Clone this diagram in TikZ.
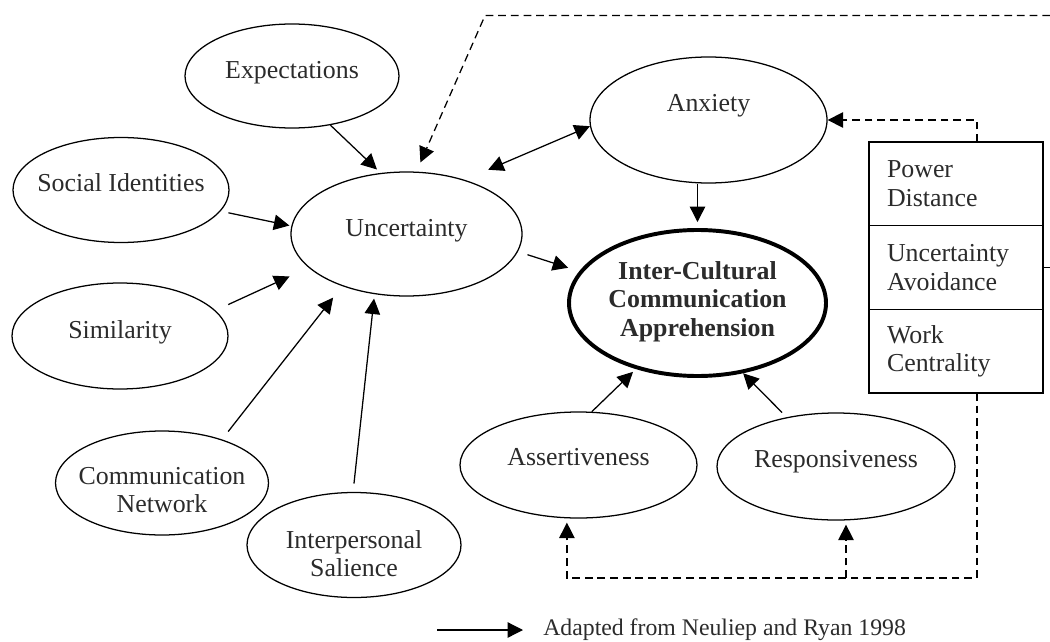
\documentclass[tikz,border=0pt]{standalone}
\usepackage{fontspec}
\setmainfont{Liberation Serif}
\usetikzlibrary{shapes.geometric,arrows.meta,positioning}
\definecolor{ink}{HTML}{2B2B2B}
\newcommand{\up}[2]{\raisebox{#1}[\height][\depth]{\begin{tabular}{@{}c@{}}#2\end{tabular}}}

\begin{document}
\begin{tikzpicture}[
	>={Triangle[length=11pt,width=11pt]},
	every node/.style={font=\fontsize{18.4}{20.3}\selectfont, text=ink},
	bubble/.style={ellipse, draw, line width=0.9pt, inner sep=0pt, inner xsep=-0.25cm},
	core/.style={bubble, line width=2.8pt, font=\fontsize{18.4}{20.3}\selectfont\bfseries},
	factor/.style={rectangle, draw, line width=0.9pt, outer sep=0pt, minimum width=4.35cm,
		minimum height=2.0925cm, text width=3.45cm, inner xsep=0.45cm, inner ysep=0pt, align=left},
	link/.style={->, line width=0.9pt},
	feedback/.style={->, line width=0.9pt, dash pattern=on 5.5pt off 3.5pt}
]
	\useasboundingbox (0,0) rectangle (26.25,-16.025);
	% antecedents of uncertainty
	\node[bubble, minimum width=5.35cm, minimum height=2.6cm] (expect) at (7.3,-1.9) {\up{0.075cm}{Expectations}};
	\node[bubble, minimum width=5.4cm, minimum height=2.625cm] (social) at (3.025,-4.75) {\up{0.1cm}{Social Identities}};
	\node[bubble, minimum width=5.4cm, minimum height=2.65cm] (simil) at (3.0,-8.4) {\up{0.075cm}{Similarity}};
	\node[bubble, minimum width=5.325cm, minimum height=2.6cm] (commnet) at (4.05,-12.075) {\up{-0.25cm}{Communication\\Network}};
	\node[bubble, minimum width=5.35cm, minimum height=2.625cm] (salience) at (8.85,-13.625) {\up{-0.3cm}{Interpersonal\\Salience}};
	% middle
	\node[bubble, minimum width=5.775cm, minimum height=3.1cm] (uncert) at (10.1625,-5.85) {\up{0.075cm}{Uncertainty}};
	\node[bubble, minimum width=5.925cm, minimum height=3.15cm] (anxiety) at (17.7125,-3.0) {\up{0.345cm}{Anxiety}};
	\node[core, minimum width=6.425cm, minimum height=3.65cm] (icca) at (17.4375,-7.575) {\up{0.025cm}{Inter-Cultural\\Communication\\Apprehension}};
	\node[bubble, minimum width=5.925cm, minimum height=2.65cm] (assert) at (14.4625,-11.625) {\up{0.125cm}{Assertiveness}};
	\node[bubble, minimum width=5.95cm, minimum height=2.675cm] (respons) at (20.9,-11.6625) {\up{0.125cm}{Responsiveness}};
	% cultural dimensions
	\node[factor] (pd) at (23.9,-4.596) {Power\\Distance};
	\node[factor, below=0pt of pd] (ua) {Uncertainty\\Avoidance};
	\node[factor, below=0pt of ua] (wc) {Work\\Centrality};
	% solid arrows
	\draw[link, shorten >=0.125cm] (expect.-52) -- (uncert.113);
	\draw[link, shorten <=0.2cm, shorten >=0.05cm] (social.-12) -- (uncert.176);
	\draw[link, shorten <=0.35cm, shorten >=0.525cm] (simil.15) -- (uncert.-161);
	\draw[link, shorten <=0.25cm, shorten >=0.365cm] (commnet.36) -- (uncert.-141);
	\draw[link, shorten <=0.21cm, shorten >=0.11cm] (salience.91) -- (uncert.-118);
	\draw[link, <->, shorten <=0.64cm] (uncert.43) -- (anxiety.183);
	\draw[link, shorten <=0.25cm, shorten >=0.29cm] (uncert.-9) -- (icca.165);
	\draw[link, shorten >=0.15cm] (icca.north |- anxiety.south) -- (icca.north);
	\draw[link, shorten >=0.1cm] (assert.76) -- (icca.-133);
	\draw[link, shorten <=0.165cm] (respons.135) -- (icca.-57);
	% dashed feedback lines
	\coordinate (edge) at (26.25,-0.39);
	\coordinate (corner) at (12.125,-0.39);
	\coordinate (floor) at (0,-14.45);
	\draw[feedback, shorten >=0.25cm] (edge) -- (corner) -- (uncert.81);
	\draw[feedback] ([xshift=0.525cm]pd.north) |- (anxiety.east);
	\draw[feedback, shorten >=0.1cm] ([xshift=0.525cm]wc.south) |- ([xshift=-0.29cm]assert.south |- floor) -- ([xshift=-0.29cm]assert.south);
	\draw[feedback, shorten >=0.1cm] ([xshift=0.25cm]respons.south |- floor) -- ([xshift=0.25cm]respons.south);
	\draw[line width=0.9pt] (ua.east) -- ++(0.2,0);
	% legend
	\node[anchor=west, inner sep=0pt, font=\fontsize{16.9}{19}\selectfont] (src) at (13.575,-15.75) {Adapted from Neuliep and Ryan 1998};
	\draw[link] ([xshift=-2.65cm]src.west) -- ([xshift=-0.5cm]src.west);
\end{tikzpicture}
\end{document}
